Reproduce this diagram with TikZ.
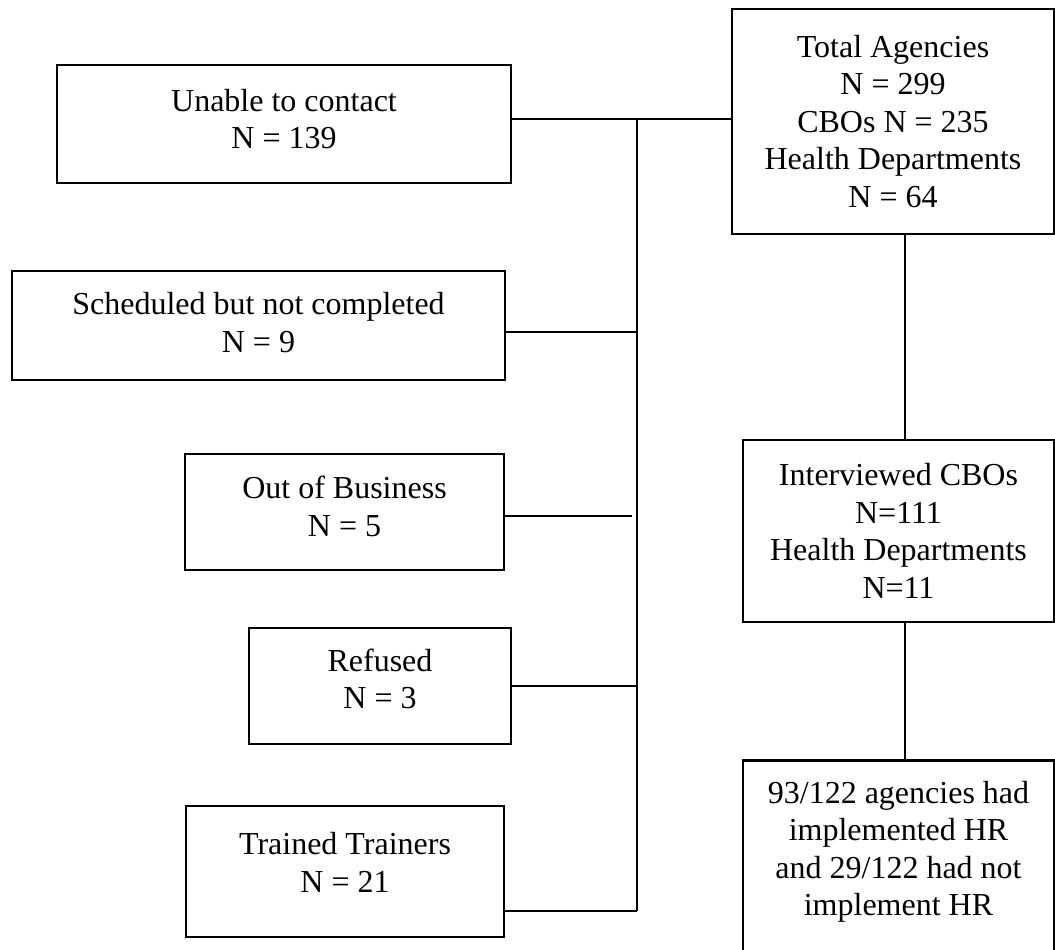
\documentclass[tikz,border=0pt]{standalone}
\usepackage{fontspec}
\setmainfont{Liberation Serif}
\begin{document}
\begin{tikzpicture}[x=1pt,y=-1pt,
  box/.style={draw, line width=2.6pt, inner sep=0pt, align=center, font=\fontsize{32}{37.5}\selectfont},
  txt/.style={inner sep=0pt, align=center, font=\fontsize{32}{37.5}\selectfont},
  conn/.style={line width=2.6pt}]
\useasboundingbox (0,0) rectangle (1055,950);
% left column frames
\node[box, minimum width=454pt, minimum height=118pt] (unable) at (284,124) {};
\node[box, minimum width=493pt, minimum height=109pt] (sched) at (258.5,325.5) {};
\node[box, minimum width=319pt, minimum height=116pt] (out) at (344.5,512) {};
\node[box, minimum width=262pt, minimum height=116pt] (refused) at (380,686) {};
\node[box, minimum width=318pt, minimum height=131pt] (trained) at (345,871.5) {};
% left column texts
\node[txt, yshift=5pt] (unableT) at (unable.center) {Unable to contact\\N = 139};
\node[txt, yshift=3pt] (schedT) at (sched.center) {Scheduled but not completed\\N = 9};
\node[txt, yshift=5.5pt] (outT) at (out.center) {Out of Business\\N = 5};
\node[txt, yshift=7pt] (refusedT) at (refused.center) {Refused\\N = 3};
\node[txt, yshift=9pt] (trainedT) at (trained.center) {Trained Trainers\\N = 21};
% right column
\node[box, minimum width=322pt, minimum height=225pt] (total) at (893,121.5) {Total Agencies\\N = 299\\CBOs N = 235\\Health Departments\\N = 64};
\node[box, minimum width=311pt, minimum height=182pt] (inter) at (898.5,531) {Interviewed CBOs\\N=111\\Health Departments\\N=11};
\node[box, minimum width=311pt, minimum height=240pt, anchor=north] (resbox) at (898.5,759) {};
\node[txt, anchor=north] (res) at (898.5,781) {93/122 agencies had\\implemented HR\\and 29/122 had not\\implement HR};
% connectors
\coordinate (j1) at (637,119);
\coordinate (j2) at (637,332);
\coordinate (j3) at (632,516);
\coordinate (j4) at (637,686);
\coordinate (j5) at (637,911);
\coordinate (vx) at (905,0);
\draw[conn] (unable.east |- j1) -- (j1) -- (total.west |- j1);
\draw[conn] (j1) -- (j5);
\draw[conn] (sched.east |- j2) -- (j2);
\draw[conn] (out.east |- j3) -- (j3);
\draw[conn] (refused.east |- j4) -- (j4);
\draw[conn] (trained.east |- j5) -- (j5);
\draw[conn] (vx |- total.south) -- (vx |- inter.north);
\draw[conn] (vx |- inter.south) -- (vx |- resbox.north);
\end{tikzpicture}
\end{document}
